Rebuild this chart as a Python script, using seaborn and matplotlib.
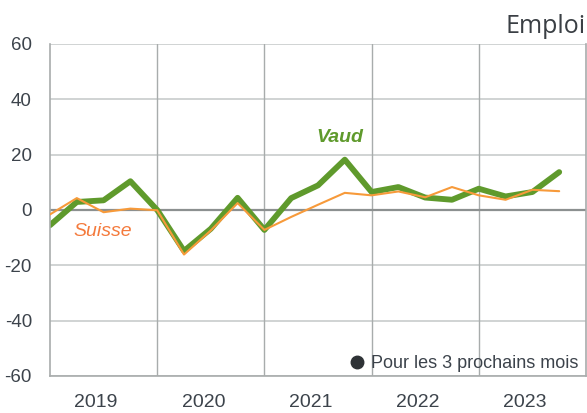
import matplotlib
matplotlib.use("Agg")
import matplotlib.pyplot as plt
from matplotlib import font_manager
from matplotlib.lines import Line2D
import numpy as np
import pandas as pd
import seaborn as sns

# quarterly values, 2019 Q1 .. 2023 Q4
years = [2019, 2020, 2021, 2022, 2023]
quarters = [0, 1, 2, 3]
vaud = [-5.5, 2.9, 3.5, 10.4, 0.0,
        -14.8, -6.8, 4.4, -7.2, 4.3,
        8.9, 18.2, 6.5, 8.3, 4.5,
        3.7, 7.7, 4.9, 6.5, 13.7]
suisse = [-1.6, 4.3, -0.8, 0.5, -0.1,
          -16.1, -7.4, 2.5, -7.2, -2.5,
          1.9, 6.2, 5.3, 6.7, 4.6,
          8.3, 5.3, 3.7, 7.3, 6.8]
year_labels = ["2019", "2020", "2021", "2022", "2023"]
y_ticks = [-60, -40, -20, 0, 20, 40, 60]

GREEN = "#5f9a2c"
ORANGE = "#f79a3a"
TXT = "#3c434b"

names = {f.name for f in font_manager.fontManager.ttflist}
narrow = "Liberation Sans Narrow" if "Liberation Sans Narrow" in names else "Liberation Sans"

x = [y + q * 0.25 for y in years for q in quarters]
df = pd.DataFrame({"x": x * 2,
                   "value": vaud + suisse,
                   "serie": ["Vaud"] * len(vaud) + ["Suisse"] * len(suisse)})

sns.set_style("white")
plt.rcParams["font.family"] = [narrow, "DejaVu Sans"]

fig = plt.figure(figsize=(5.87, 4.13), dpi=100)
ax = fig.add_axes([50 / 587, 1 - 376 / 413, 536 / 587, 332 / 413])

# grid
for v in y_ticks:
    if v != 0:
        ax.axhline(v, color="#c8cccc", lw=1.2, zorder=0)
for yr in years[1:]:
    ax.axvline(yr, color="#a8acac", lw=1.0, zorder=0)
ax.axhline(0, color="#8c9090", lw=1.6, zorder=1)

sns.lineplot(data=df[df.serie == "Suisse"], x="x", y="value", color=ORANGE,
             lw=1.5, ax=ax, zorder=3)
sns.lineplot(data=df[df.serie == "Vaud"], x="x", y="value", color=GREEN,
             lw=4.2, ax=ax, zorder=2)

ax.set_xlim(2019, 2024)
ax.set_ylim(-60, 60)
ax.set_yticks(y_ticks)
ax.set_yticklabels([str(v) for v in y_ticks], fontsize=13.5, color=TXT)
ax.set_xticks([y + 0.43 for y in years])
ax.set_xticklabels(year_labels, fontsize=14, color=TXT)
ax.tick_params(axis="both", length=0)
ax.tick_params(axis="y", pad=13)
ax.tick_params(axis="x", pad=13)
ax.set_xlabel("")
ax.set_ylabel("")
for side in ["left", "bottom", "right", "top"]:
    ax.spines[side].set_color("#a8acac")
    ax.spines[side].set_linewidth(1.2)
ax.spines["top"].set_visible(False)

ax.text(2021.70, 26.2, "Vaud", color=GREEN, fontsize=14, fontweight="bold",
        fontstyle="italic", ha="center", va="center")
ax.text(2019.49, -7.7, "Suisse", color="#f47a3c", fontsize=14,
        fontstyle="italic", ha="center", va="center")

handle = Line2D([], [], marker="o", color="none", markerfacecolor="#2e3236",
                markeredgecolor="#2e3236", markersize=9)
leg = ax.legend([handle], ["Pour les 3 prochains mois"], loc="lower right",
                bbox_to_anchor=(1.0, -0.01), frameon=False, fontsize=13,
                handlelength=0.8, handletextpad=0.4, borderaxespad=0.0)
for t in leg.get_texts():
    t.set_color(TXT)

fig.text(586 / 587, 1 - 33 / 413, "Emploi", fontsize=18, color="#3a3f44",
         family=["Open Sans", "DejaVu Sans"], ha="right", va="baseline")

fig.savefig("out.png", dpi=100)
